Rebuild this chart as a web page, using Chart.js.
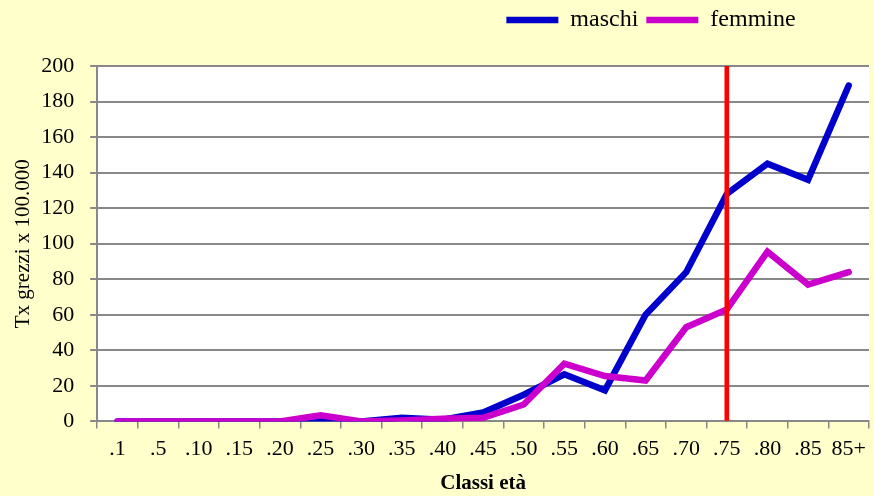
<!DOCTYPE html>
<html><head><meta charset="utf-8">
<script src="https://cdn.jsdelivr.net/npm/chart.js@4.4.0/dist/chart.umd.min.js"></script>
<style>html,body{margin:0;padding:0;background:#FFFFCC;}#wrap{width:874px;height:496px;}</style>
</head><body><div id="wrap"><canvas id="c" width="874" height="496"></canvas></div>
<script>
const categories = ['.1','.5','.10','.15','.20','.25','.30','.35','.40','.45','.50','.55','.60','.65','.70','.75','.80','.85','85+'];
const maschi =   [0,0,0,0,0,1,0,2,1,5,15,26.5,17.5,60,84,128,145,136,189];
const femmine =  [0,0,0,0,0,3.5,0,0.5,1.5,2,9.5,32.5,25.5,23,53,63,95.5,77,84];
const markerCategory = '.75';
const markerValue = 200;
const yTicks = [0,20,40,60,80,100,120,140,160,180,200];
const markerData = categories.map(c => c === markerCategory ? markerValue : null);

const font = 'Liberation Serif, Times New Roman, serif';
const whiteArea = {
  id:'whiteArea',
  beforeDraw(chart){
    const {ctx, chartArea:a} = chart;
    ctx.save(); ctx.fillStyle='#FFFFFF'; ctx.fillRect(a.left,a.top,a.right-a.left,a.bottom-a.top); ctx.restore();
  }
};
const legendTweak = {
  id:'legendTweak',
  beforeInit(chart){
    const lg = chart.legend;
    const orig = lg.fit;
    lg.fit = function(){ orig.call(this); this.height += 24; };
  },
  afterLayout(chart){ chart.legend.left = 432; }
};
new Chart(document.getElementById('c'), {
  data:{
    labels: categories,
    datasets:[
      {type:'bar', label:'marker', data:markerData, backgroundColor:'#FF0000', barThickness:4, order:0},
      {type:'line', label:'maschi', data:maschi, borderColor:'#0000CC', backgroundColor:'#0000CC', borderWidth:6.5, pointRadius:0, tension:0, borderCapStyle:'round', borderJoinStyle:'miter', order:2},
      {type:'line', label:'femmine', data:femmine, borderColor:'#CC00CC', backgroundColor:'#CC00CC', borderWidth:6.5, pointRadius:0, tension:0, borderCapStyle:'round', borderJoinStyle:'miter', order:1}
    ]
  },
  options:{
    responsive:false, animation:false,
    layout:{padding:{left:11,right:4,top:0,bottom:0}},
    plugins:{
      tooltip:{enabled:false},
      legend:{
        position:'top', align:'center',
        labels:{
          filter:(it)=>it.text!=='marker',
          sort:(a,b)=>a.datasetIndex-b.datasetIndex,
          usePointStyle:true, pointStyle:'line', pointStyleWidth:52,
          color:'#000', font:{family:font,size:24}, padding:8
        }
      }
    },
    scales:{
      x:{
        offset:true,
        grid:{display:true, drawOnChartArea:false, color:'#888888', lineWidth:1.5, tickLength:7, offset:true},
        border:{color:'#888888', width:2},
        ticks:{color:'#000', font:{family:font,size:22}, autoSkip:false, maxRotation:0, padding:8},
        title:{display:true, text:'Classi età', color:'#000', font:{family:font,size:21,weight:'bold'}, padding:{top:0,bottom:0}}
      },
      y:{
        min:0, max:200,
        afterBuildTicks(s){ s.ticks = yTicks.map(v=>({value:v})); },
        grid:{color:'#888888', lineWidth:2, tickLength:7},
        border:{color:'#888888', width:2},
        ticks:{color:'#000', font:{family:font,size:22}, padding:16},
        title:{display:true, text:'Tx grezzi x 100.000', color:'#000', font:{family:font,size:21}, padding:{top:0,bottom:-11}}
      }
    }
  },
  plugins:[whiteArea, legendTweak]
});
</script></body></html>
